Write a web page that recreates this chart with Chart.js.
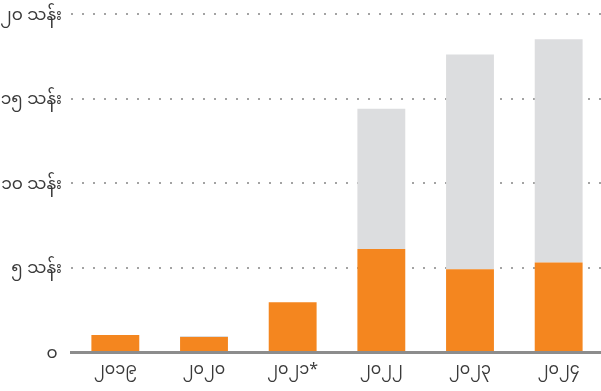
<!DOCTYPE html>
<html>
<head>
<meta charset="utf-8">
<script src="https://cdn.jsdelivr.net/npm/chart.js@4/dist/chart.umd.min.js"></script>
<style>
  html, body { margin: 0; padding: 0; background: #ffffff; overflow: hidden; }
  #wrap { width: 603px; height: 391px; position: relative; }
</style>
</head>
<body>
<div id="wrap"><canvas id="c"></canvas></div>
<script>
// Years along the bottom (Myanmar digits)
const years = ["၂၀၁၉", "၂၀၂၀", "၂၀၂၁*", "၂၀၂၂", "၂၀၂၃", "၂၀၂၄"];
// People, in millions: lower orange part and the grey remainder on top
const orangePart = [1.0, 0.89, 2.95, 6.1, 4.9, 5.3];
const greyPart = [0, 0.06, 0, 8.3, 12.7, 13.2];
// Value axis ticks (millions) and their labels
const yTicks = [0, 5, 10, 15, 20];
const yTickLabels = ["၀ ", "၅ သန်း", "၁၀ သန်း", "၁၅ သန်း", "၂၀ သန်း"];

const FONT = "'Noto Sans Myanmar', 'Padauk', 'Myanmar Text', 'Noto Sans', sans-serif";

new Chart(document.getElementById('c'), {
  type: 'bar',
  data: {
    labels: years,
    datasets: [
      { data: orangePart, backgroundColor: '#F4861F', borderWidth: 0 },
      { data: greyPart, backgroundColor: '#DCDDDF', borderWidth: 0 }
    ]
  },
  options: {
    responsive: true,
    maintainAspectRatio: false,
    animation: false,
    devicePixelRatio: 1,
    layout: { padding: { top: 14, right: 0, left: 0, bottom: 0 } },
    plugins: { legend: { display: false }, tooltip: { enabled: false } },
    datasets: { bar: { categoryPercentage: 1, barPercentage: 0.54 } },
    scales: {
      x: {
        stacked: true,
        grid: { display: false, drawTicks: false },
        border: { display: true, color: '#8C8C8C', width: 3 },
        ticks: { color: '#3a3a3a', font: { family: FONT, size: 16 }, padding: 11 },
        afterFit: s => { s.height = 39; s.paddingLeft = 0; s.paddingRight = 0; }
      },
      y: {
        stacked: true,
        min: 0,
        max: 20,
        afterBuildTicks: s => { s.ticks = yTicks.map(v => ({ value: v })); },
        afterFit: s => { s.width = 71; s.paddingTop = 0; s.paddingBottom = 0; },
        grid: {
          drawTicks: false,
          lineWidth: 2,
          color: ctx => ctx.tick && ctx.tick.value === 0 ? 'rgba(0,0,0,0)' : '#A3A3A3'
        },
        border: { display: false, dash: [2, 9] },
        ticks: {
          color: '#3a3a3a',
          font: { family: FONT, size: 17 },
          padding: 9,
          labelOffset: 4,
          callback: (v) => {
            const i = yTicks.indexOf(v);
            return i >= 0 ? yTickLabels[i] : '';
          }
        }
      }
    }
  }
});
</script>
</body>
</html>
